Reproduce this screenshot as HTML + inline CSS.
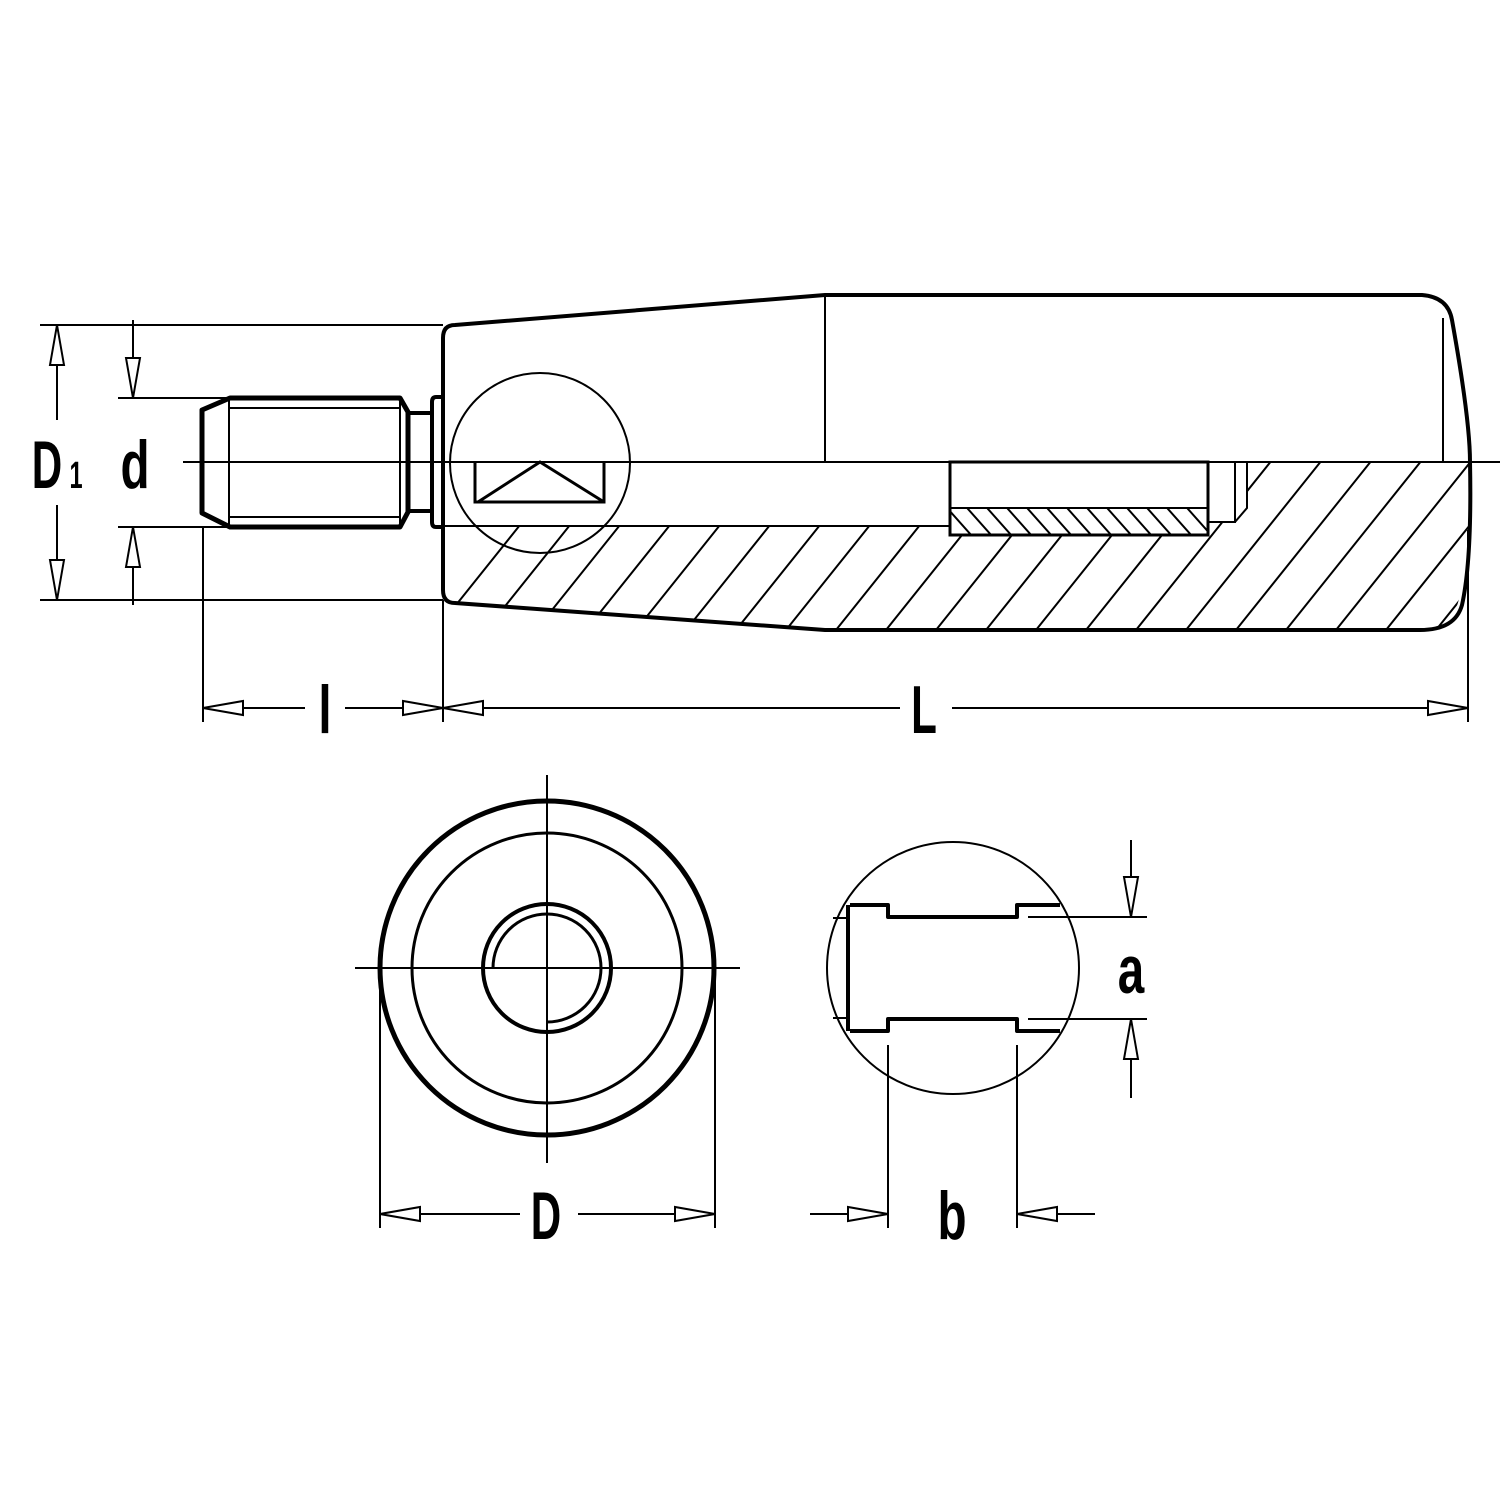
<!DOCTYPE html>
<html><head><meta charset="utf-8"><style>html,body{margin:0;padding:0;background:#fff}svg{display:block}
text{font-family:"Liberation Sans",sans-serif;fill:#000;font-weight:bold}</style></head><body>
<svg width="1500" height="1500" viewBox="0 0 1500 1500" xmlns="http://www.w3.org/2000/svg">
<defs>
<clipPath id="hc"><path d="M443,526 L950,526 L950,535 L1208,535 L1208,522 L1235,522 L1248,507 L1248,462 L1470,462 C1470,540 1465,600 1450,620 Q1440,630 1420,630 L825,630 L455,603 L443,592 Z"/></clipPath>
<clipPath id="hc2"><rect x="950" y="508" width="258" height="27"/></clipPath>
</defs>
<g fill="none" stroke="#000" stroke-linecap="butt">
<g clip-path="url(#hc)" stroke-width="2">
<path d="M300,800 L700,300 M350,800 L750,300 M400,800 L800,300 M450,800 L850,300 M500,800 L900,300 M550,800 L950,300 M600,800 L1000,300 M650,800 L1050,300 M700,800 L1100,300 M750,800 L1150,300 M800,800 L1200,300 M850,800 L1250,300 M900,800 L1300,300 M950,800 L1350,300 M1000,800 L1400,300 M1050,800 L1450,300 M1100,800 L1500,300 M1150,800 L1550,300 M1200,800 L1600,300 M1250,800 L1650,300 M1300,800 L1700,300 M1350,800 L1750,300 M1400,800 L1800,300"/>
</g>
<g clip-path="url(#hc2)" stroke-width="2">
<path d="M940,500 L980,545 M960,500 L1000,545 M980,500 L1020,545 M1000,500 L1040,545 M1020,500 L1060,545 M1040,500 L1080,545 M1060,500 L1100,545 M1080,500 L1120,545 M1100,500 L1140,545 M1120,500 L1160,545 M1140,500 L1180,545 M1160,500 L1200,545 M1180,500 L1220,545 M1200,500 L1240,545"/>
</g>
<g stroke-width="2">
<line x1="183" y1="462" x2="1500" y2="462"/>
<line x1="443" y1="526" x2="950" y2="526"/>
<rect x="950" y="462" width="258" height="73" stroke-width="3"/>
<line x1="950" y1="508" x2="1208" y2="508"/>
<path d="M1208,462 V522 H1235 V462 M1235,522 L1247,508 V462"/>
<line x1="825" y1="295" x2="825" y2="462"/>
<line x1="1443" y1="318" x2="1443" y2="462"/>
<circle cx="540" cy="463" r="90"/>
<path d="M475,462 V502 H604 V462 M478,502 L540,462 L604,502" stroke-width="3"/>
<path d="M230,408 H400 M230,517 H400 M229,398 V527 M400,398 V527"/>
<path d="M40,325 H443 M40,600 H443 M118,398 H230 M118,527 H230 M57,330 V420 M57,505 V600 M133,320 V398 M133,527 V605"/>
<path d="M203,527 V722 M443,600 V722 M1468,530 V722 M203,708 H305 M345,708 H443 M443,708 H900 M952,708 H1468"/>
</g>
<g stroke-width="4" stroke-linejoin="round">
<path d="M455,325 L825,295 H1422 Q1448,297 1452,320 Q1470,420 1470,462 Q1472,560 1462,605 Q1455,630 1420,630 H825 L455,603 Q443,603 443,590 V338 Q443,325 455,325 Z"/>
<path d="M230,398 H400 L408,412 V512 L400,527 H230 L202,513 V410 Z" stroke-width="5"/>
<path d="M408,413 H432 M408,511 H432"/>
<path d="M443,397 H436 Q432,397 432,402 V522 Q432,527 436,527 H443"/>
<circle cx="547" cy="968" r="167" stroke-width="5"/>
<circle cx="547" cy="968" r="64"/>
<path d="M850,905 H888 V917 H1017 V905 H1060 M850,1031 H888 V1019 H1017 V1031 H1060 M848,905 V1031"/>
</g>
<g stroke-width="3">
<circle cx="547" cy="968" r="135"/>
<path d="M493,968 A54,54 0 1 1 547,1022"/>
</g>
<g stroke-width="2">
<path d="M355,968 H740 M547,775 V1163"/>
<path d="M380,968 V1228 M715,968 V1228 M380,1214 H520 M578,1214 H715"/>
<circle cx="953" cy="968" r="126"/>
<path d="M833,918 H848 M833,1018 H848"/>
<path d="M1028,917 H1147 M1028,1019 H1147 M1131,840 V917 M1131,1019 V1098"/>
<path d="M888,1045 V1228 M1017,1045 V1228 M810,1214 H888 M1017,1214 H1095"/>
</g>
<g stroke-width="2" fill="#fff">
<path d="M57,325 L50,365 H64 Z"/>
<path d="M57,600 L50,560 H64 Z"/>
<path d="M133,398 L126,358 H140 Z"/>
<path d="M133,527 L126,567 H140 Z"/>
<path d="M203,708 L243,701 V715 Z"/>
<path d="M443,708 L403,701 V715 Z"/>
<path d="M443,708 L483,701 V715 Z"/>
<path d="M1468,708 L1428,701 V715 Z"/>
<path d="M380,1214 L420,1207 V1221 Z"/>
<path d="M715,1214 L675,1207 V1221 Z"/>
<path d="M888,1214 L848,1207 V1221 Z"/>
<path d="M1017,1214 L1057,1207 V1221 Z"/>
<path d="M1131,917 L1124,877 H1138 Z"/>
<path d="M1131,1019 L1124,1059 H1138 Z"/>
</g>
</g>
<g font-size="68" text-anchor="middle">
<text transform="translate(47,488) scale(0.62,1)">D</text>
<text transform="translate(76,488) scale(0.62,1)" font-size="38" font-weight="normal">1</text>
<text transform="translate(135,488) scale(0.7,1)">d</text>
<text transform="translate(325,733) scale(0.7,1)">l</text>
<text transform="translate(924,733) scale(0.62,1)">L</text>
<text transform="translate(546,1239) scale(0.62,1)">D</text>
<text transform="translate(952,1239) scale(0.7,1)">b</text>
<text transform="translate(1131,993) scale(0.7,1)">a</text>
</g>
</svg>
</body></html>
